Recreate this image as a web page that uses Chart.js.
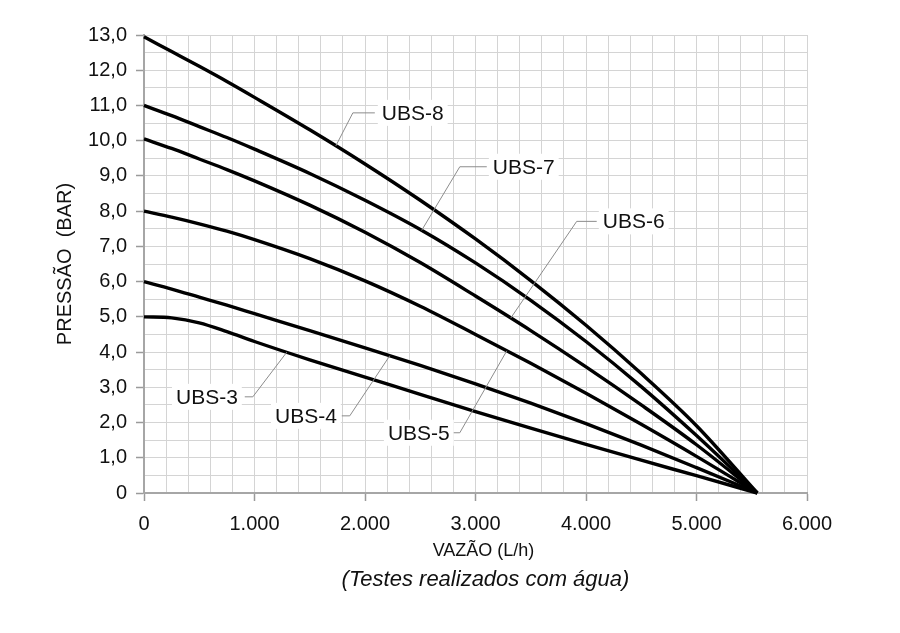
<!DOCTYPE html>
<html><head><meta charset="utf-8">
<script src="https://cdn.jsdelivr.net/npm/chart.js@4.4.0/dist/chart.umd.min.js"></script>
<style>html,body{margin:0;padding:0;background:#fff;}#wrap{width:900px;height:633px;position:relative;}</style>
</head><body><div id="wrap"><canvas id="c"></canvas></div>
<script>
// ---- data ----
const flowLh = [0, 250, 500, 750, 1000, 1500, 2000, 2500, 3000, 3500, 4000, 4500, 5000, 5550];
const seriesNames = ['UBS-3', 'UBS-4', 'UBS-5', 'UBS-6', 'UBS-7', 'UBS-8'];
const ubs3 = [5.0, 4.97, 4.83, 4.58, 4.3, 3.78, 3.29, 2.8, 2.31, 1.84, 1.38, 0.93, 0.49, 0];
const ubs4 = [6.0, 5.79, 5.56, 5.33, 5.09, 4.61, 4.12, 3.62, 3.10, 2.55, 1.97, 1.36, 0.72, 0];
const ubs5 = [8.0, 7.83, 7.64, 7.43, 7.19, 6.65, 6.02, 5.30, 4.50, 3.68, 2.83, 1.95, 1.04, 0];
const ubs6 = [10.05, 9.78, 9.48, 9.18, 8.86, 8.17, 7.40, 6.54, 5.59, 4.61, 3.58, 2.50, 1.37, 0];
const ubs7 = [11.0, 10.71, 10.4, 10.09, 9.76, 9.07, 8.31, 7.48, 6.53, 5.47, 4.30, 3.02, 1.63, 0];
const ubs8 = [12.95, 12.53, 12.11, 11.68, 11.23, 10.31, 9.34, 8.31, 7.21, 6.03, 4.76, 3.39, 1.91, 0];
const xTickLabels = ['0', '1.000', '2.000', '3.000', '4.000', '5.000', '6.000'];
const yTickLabels = ['0', '1,0', '2,0', '3,0', '4,0', '5,0', '6,0', '7,0', '8,0', '9,0', '10,0', '11,0', '12,0', '13,0'];
const yTitle = 'PRESSÃO  (BAR)';
const xTitle = 'VAZÃO (L/h)';
const noteText = '(Testes realizados com água)';

const allSeries = [ubs3, ubs4, ubs5, ubs6, ubs7, ubs8];

// label call-outs (anchor positions in data units)
const callouts = [
  {name: 'UBS-8', series: ubs8, curveX: 1736, elbowX: 1890, startX: 2089, textX: 2152, y: 10.79, side: 'right'},
  {name: 'UBS-7', series: ubs7, curveX: 2513, elbowX: 2858, startX: 3102, textX: 3157, y: 9.26, side: 'right'},
  {name: 'UBS-6', series: ubs6, curveX: 3319, elbowX: 3916, startX: 4097, textX: 4152, y: 7.71, side: 'right'},
  {name: 'UBS-3', series: ubs3, curveX: 1292, elbowX: 985, startX: 912, textX: 849, y: 2.73, side: 'left'},
  {name: 'UBS-4', series: ubs4, curveX: 2224, elbowX: 1862, startX: 1790, textX: 1745, y: 2.19, side: 'left'},
  {name: 'UBS-5', series: ubs5, curveX: 3283, elbowX: 2858, startX: 2803, textX: 2767, y: 1.71, side: 'left'}
];

function interp(series, x) {
  for (let i = 0; i < flowLh.length - 1; i++) {
    if (x >= flowLh[i] && x <= flowLh[i + 1]) {
      const t = (x - flowLh[i]) / (flowLh[i + 1] - flowLh[i]);
      return series[i] + t * (series[i + 1] - series[i]);
    }
  }
  return series[series.length - 1];
}

const FONT = "'Liberation Sans', Arial, Helvetica, sans-serif";

const calloutPlugin = {
  id: 'callouts',
  afterDatasetsDraw(chart) {
    const ctx = chart.ctx;
    const xs = chart.scales.x, ys = chart.scales.y;
    ctx.save();
    ctx.font = '21px ' + FONT;
    ctx.textBaseline = 'middle';
    callouts.forEach(c => {
      const py = ys.getPixelForValue(c.y);
      const cx = xs.getPixelForValue(c.curveX);
      const cy = ys.getPixelForValue(interp(c.series, c.curveX));
      const ex = xs.getPixelForValue(c.elbowX);
      const sx = xs.getPixelForValue(c.startX);
      const tx = xs.getPixelForValue(c.textX);
      const w = ctx.measureText(c.name).width;
      const left = c.side === 'right' ? tx : tx - w;
      ctx.fillStyle = '#ffffff';
      ctx.fillRect(left - 4, py - 13, w + 8, 26);
      ctx.strokeStyle = '#8c8c8c';
      ctx.lineWidth = 1;
      ctx.beginPath();
      ctx.moveTo(sx, py);
      ctx.lineTo(ex, py);
      ctx.lineTo(cx, cy);
      ctx.stroke();
      ctx.fillStyle = '#111111';
      ctx.textAlign = 'left';
      ctx.fillText(c.name, left, py + 1);
    });
    // bottom titles
    const mid = (chart.chartArea.left + chart.chartArea.right) / 2 + 8;
    ctx.textAlign = 'center';
    ctx.fillStyle = '#111111';
    ctx.font = '18px ' + FONT;
    ctx.fillText(xTitle, mid, 551);
    ctx.font = 'italic 22px ' + FONT;
    ctx.fillText(noteText, mid + 2, 580);
    ctx.restore();
  }
};

const datasets = allSeries.map((s, k) => ({
  label: seriesNames[k],
  data: flowLh.map((x, i) => ({x: x, y: s[i]})),
  borderColor: '#000000',
  borderWidth: 3.4,
  pointRadius: 0,
  fill: false,
  cubicInterpolationMode: 'monotone',
  clip: false
}));

new Chart(document.getElementById('c'), {
  type: 'line',
  data: {datasets: datasets},
  options: {
    responsive: true,
    maintainAspectRatio: false,
    animation: false,
    events: [],
    layout: {padding: {top: 35, right: 93, bottom: 0, left: 0}},
    plugins: {legend: {display: false}, tooltip: {enabled: false}},
    scales: {
      x: {
        type: 'linear', min: 0, max: 6000,
        afterFit(scale) { scale.height = 140; },
        ticks: {
          stepSize: 200, autoSkip: false, maxRotation: 0, maxTicksLimit: 100,
          padding: 11, color: '#111111', font: {family: FONT, size: 20},
          callback: v => (v % 1000 === 0 ? xTickLabels[v / 1000] : '')
        },
        grid: {
          color: '#d4d4d4', lineWidth: 1, tickLength: 8,
          tickColor: c => (c.tick && c.tick.value % 1000 === 0 ? '#9a9a9a' : 'rgba(0,0,0,0)'),
          tickWidth: 1.5
        },
        border: {color: '#a6a6a6', width: 2}
      },
      y: {
        type: 'linear', min: 0, max: 13,
        afterFit(scale) { scale.width = 144; },
        ticks: {
          stepSize: 0.5, autoSkip: false, maxTicksLimit: 100,
          padding: 9, color: '#111111', font: {family: FONT, size: 20},
          callback: v => (v % 1 === 0 ? yTickLabels[v] : '')
        },
        grid: {
          color: '#d4d4d4', lineWidth: 1, tickLength: 8,
          tickColor: c => (c.tick && c.tick.value % 1 === 0 ? '#9a9a9a' : 'rgba(0,0,0,0)'),
          tickWidth: 1.5
        },
        border: {color: '#a6a6a6', width: 2},
        title: {
          display: true, text: yTitle, color: '#111111',
          font: {family: FONT, size: 20}, padding: {top: 53, bottom: 0}
        }
      }
    }
  },
  plugins: [calloutPlugin]
});
</script>
</body></html>
